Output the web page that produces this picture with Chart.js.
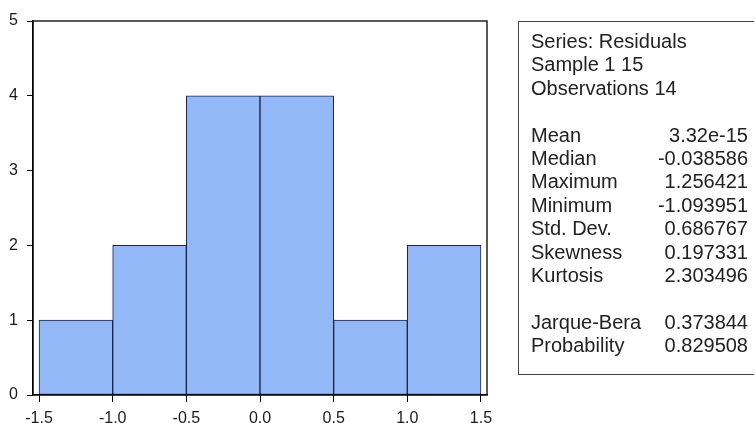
<!DOCTYPE html>
<html>
<head>
<meta charset="utf-8">
<script src="https://cdn.jsdelivr.net/npm/chart.js@4.4.1/dist/chart.umd.min.js"></script>
<style>
  html, body { margin: 0; padding: 0; background: #fff; }
  #wrap { position: relative; width: 755px; height: 423px; overflow: hidden; }
  #c { position: absolute; left: 0; top: 0; }
  #stats {
    position: absolute; left: 518px; top: 21px; width: 236px; height: 354px;
    border: 1.5px solid #444; border-right: none; box-sizing: border-box;
    font-family: "Liberation Sans", Arial, sans-serif; font-size: 20px; color: #222;
    padding: 8px 6px 0 12px; line-height: 23.4px;
  }
  #stats .row { display: flex; justify-content: space-between; white-space: nowrap; }
  #stats .gap { height: 23.4px; }
</style>
</head>
<body>
<div id="wrap">
  <canvas id="c" width="755" height="423"></canvas>
  <div id="stats"></div>
</div>
<script>
// ---- data ----
const binEdges = [-1.5, -1.0, -0.5, 0.0, 0.5, 1.0, 1.5];
const counts = [1, 2, 4, 4, 1, 2];
const xTicks = [-1.5, -1.0, -0.5, 0.0, 0.5, 1.0, 1.5];
const yTicks = [0, 1, 2, 3, 4, 5];
const headerLines = ["Series: Residuals", "Sample 1 15", "Observations 14"];
const statNames = ["Mean", "Median", "Maximum", "Minimum", "Std. Dev.", "Skewness", "Kurtosis"];
const statValues = ["3.32e-15", "-0.038586", "1.256421", "-1.093951", "0.686767", "0.197331", "2.303496"];
const testNames = ["Jarque-Bera", "Probability"];
const testValues = ["0.373844", "0.829508"];

// ---- stats box ----
const box = document.getElementById('stats');
function addLine(text) { const d = document.createElement('div'); d.textContent = text; box.appendChild(d); }
function addRow(a, b) {
  const d = document.createElement('div'); d.className = 'row';
  const s1 = document.createElement('span'); s1.textContent = a;
  const s2 = document.createElement('span'); s2.textContent = b;
  d.appendChild(s1); d.appendChild(s2); box.appendChild(d);
}
function addGap() { const d = document.createElement('div'); d.className = 'gap'; box.appendChild(d); }
headerLines.forEach(addLine);
addGap();
statNames.forEach((n, i) => addRow(n, statValues[i]));
addGap();
testNames.forEach((n, i) => addRow(n, testValues[i]));

// ---- chart ----
Chart.defaults.font.family = "'Liberation Sans', Arial, sans-serif";
const points = counts.map((c, i) => ({ x: (binEdges[i] + binEdges[i + 1]) / 2, y: c }));

const framePlugin = {
  id: 'frame',
  afterDatasetsDraw(chart) {
    const a = chart.chartArea, ctx = chart.ctx;
    ctx.save();
    ctx.strokeStyle = '#000';
    ctx.lineWidth = 1.3;
    ctx.strokeRect(a.left, a.top, a.right - a.left, a.bottom - a.top);
    ctx.restore();
  }
};

new Chart(document.getElementById('c'), {
  type: 'bar',
  data: {
    datasets: [{
      data: points,
      backgroundColor: '#93B8F8',
      borderColor: '#1c2240',
      borderWidth: 1,
      borderSkipped: false,
      barPercentage: 1,
      categoryPercentage: 1
    }]
  },
  options: {
    responsive: false,
    animation: false,
    layout: { padding: { left: 0, top: 21, right: 268, bottom: 0 } },
    plugins: { legend: { display: false }, tooltip: { enabled: false } },
    scales: {
      x: {
        type: 'linear',
        min: -1.541, max: 1.541,
        offset: false,
        afterBuildTicks: s => { s.ticks = xTicks.map(v => ({ value: v })); },
        afterFit: s => { s.height = 28; },
        grid: { display: true, drawOnChartArea: false, drawTicks: true, tickLength: 7, tickColor: '#000', offset: false },
        border: { color: '#000', width: 1.3 },
        ticks: {
          color: '#1a1a1a', padding: 7, maxRotation: 0, autoSkip: false,
          font: { size: 16 },
          callback: v => Number(v).toFixed(1)
        }
      },
      y: {
        min: 0, max: 5,
        afterBuildTicks: s => { s.ticks = yTicks.map(v => ({ value: v })); },
        afterFit: s => { s.width = 33; },
        grid: { display: true, drawOnChartArea: false, drawTicks: true, tickLength: 6, tickColor: '#000' },
        border: { color: '#000', width: 1.3 },
        ticks: {
          color: '#1a1a1a', padding: 9,
          font: { size: 16 }
        }
      }
    }
  },
  plugins: [framePlugin]
});
</script>
</body>
</html>
